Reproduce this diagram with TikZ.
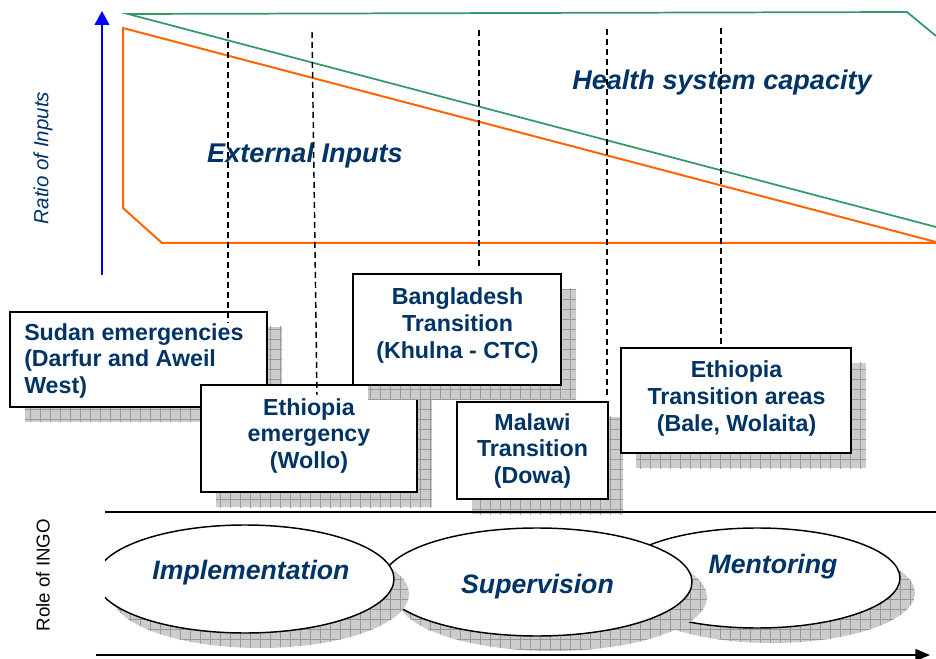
\documentclass[tikz,border=0pt]{standalone}
\usepackage{fontspec}
\setmainfont{Liberation Sans}
\usetikzlibrary{shapes.geometric,arrows.meta,patterns.meta,shadows}
\definecolor{navy}{RGB}{0,51,102}
\definecolor{orng}{RGB}{255,102,0}
\definecolor{grn}{RGB}{51,153,102}
\begin{document}
\begin{tikzpicture}[x=0.75pt,y=-0.75pt,
  hatchshadow/.style={
    drop shadow={shadow xshift=11.25pt,shadow yshift=-11.25pt,opacity=1,fill=gray!40},
    drop shadow={shadow xshift=11.25pt,shadow yshift=-11.25pt,opacity=1,pattern={Hatch[distance=7.5pt,line width=0.5pt]},pattern color=gray!80}},
  box/.style={draw=black,line width=1.5pt,fill=white,rectangle,inner sep=0pt,hatchshadow},
  boxtext/.style={font=\bfseries\fontsize{17.4}{20.1}\selectfont,text=navy,align=center,inner sep=0pt},
  oval/.style={draw=black,line width=1.1pt,fill=white,ellipse,inner sep=0pt,hatchshadow},
  ovaltext/.style={font=\bfseries\itshape\fontsize{20}{24}\selectfont,text=navy,inner sep=0pt},
  bigtext/.style={font=\bfseries\itshape\fontsize{20.3}{24}\selectfont,text=navy,inner sep=0pt},
  guide/.style={black,line width=1.1pt,dash pattern=on 4.5pt off 3pt},
]
\useasboundingbox (0,0) rectangle (936,659);

% axis labels
\node[rotate=90,font=\itshape\fontsize{15.4}{18}\selectfont,text=navy,inner sep=0pt] (ratio) at (43,158) {Ratio of Inputs};
\node[rotate=90,font=\fontsize{14}{17}\selectfont,text=black,inner sep=0pt] (role) at (43,575) {Role of INGO};

% vertical blue arrow
\coordinate (ya0) at (102,275);
\coordinate (ya1) at (102,11);
\draw[blue,line width=1.5pt,-{Triangle[width=11pt,length=10.5pt]}] (ya0) -- (ya1);

% green health system capacity
\draw[grn,line width=1.3pt] (936,36) -- (907,12) -- (128,14) -- (936,227);
% orange external inputs
\draw[orng,line width=1.5pt,line join=miter] (936,242) -- (123,28) -- (123,208) -- (162,243) -- (936,243);

\node[bigtext] (ext) at (305,156) {External Inputs};
\node[bigtext] (hsc) at (722,83) {Health system capacity};

% boxes
\node[box,minimum width=192.75pt,minimum height=71.25pt] (sudan) at (138.5,359.5) {};
\node[boxtext,anchor=west,align=left] (sudant) at (24,361) {Sudan emergencies\\(Darfur and Aweil\\West)};

\node[box,minimum width=162pt,minimum height=80.25pt] (ethe) at (309,438.5) {};
\node[boxtext] (ethet) at (309,436) {Ethiopia\\emergency\\(Wollo)};

\node[box,minimum width=156pt,minimum height=83.25pt] (bang) at (457,329.5) {};
\node[boxtext] (bangt) at (457.5,325.5) {Bangladesh\\Transition\\(Khulna - CTC)};

\node[box,minimum width=113.25pt,minimum height=72.75pt] (malawi) at (532.5,450.5) {};
\node[boxtext] (malawit) at (532.5,451) {Malawi\\Transition\\(Dowa)};

\node[box,minimum width=172.5pt,minimum height=78.75pt] (etht) at (736,400.5) {};
\node[boxtext] (ethtt) at (736.5,398.5) {Ethiopia\\Transition areas\\(Bale, Wolaita)};

% dashed guides
\coordinate (d1a) at (228,32);  \coordinate (d1b) at (228,323);
\coordinate (d2a) at (312,32);  \coordinate (d2b) at (317,395);
\coordinate (d3a) at (479,30);  \coordinate (d3b) at (479,268);
\coordinate (d4a) at (607,29);  \coordinate (d4b) at (607,398);
\coordinate (d5a) at (721,28);  \coordinate (d5b) at (721,345);
\draw[guide] (d1a) -- (d1b);
\draw[guide] (d2a) -- (d2b);
\draw[guide] (d3a) -- (d3b);
\draw[guide] (d4a) -- (d4b);
\draw[guide] (d5a) -- (d5b);

% separator line
\coordinate (hl0) at (105,512);
\coordinate (hl1) at (936,512);
\draw[line width=1.3pt] (hl0) -- (hl1);

% ellipses
\begin{scope}
\clip (105,0) rectangle (936,659);
\node[oval,minimum width=214.5pt,minimum height=75pt] (ment) at (757,578) {};
\node[oval,minimum width=232.5pt,minimum height=81pt] (sup) at (537,582) {};
\node[oval,minimum width=223.5pt,minimum height=81pt] (impl) at (245,579) {};
\end{scope}
\node[ovaltext] (implt) at (251,572.5) {Implementation};
\node[ovaltext] (supt) at (537.5,587) {Supervision};
\node[ovaltext] (mentt) at (773,567) {Mentoring};

% bottom arrow
\coordinate (xa0) at (96,655);
\coordinate (xa1) at (930,655);
\draw[black,line width=1.3pt,-{Triangle[width=9pt,length=11pt]}] (xa0) -- (xa1);
\end{tikzpicture}
\end{document}
